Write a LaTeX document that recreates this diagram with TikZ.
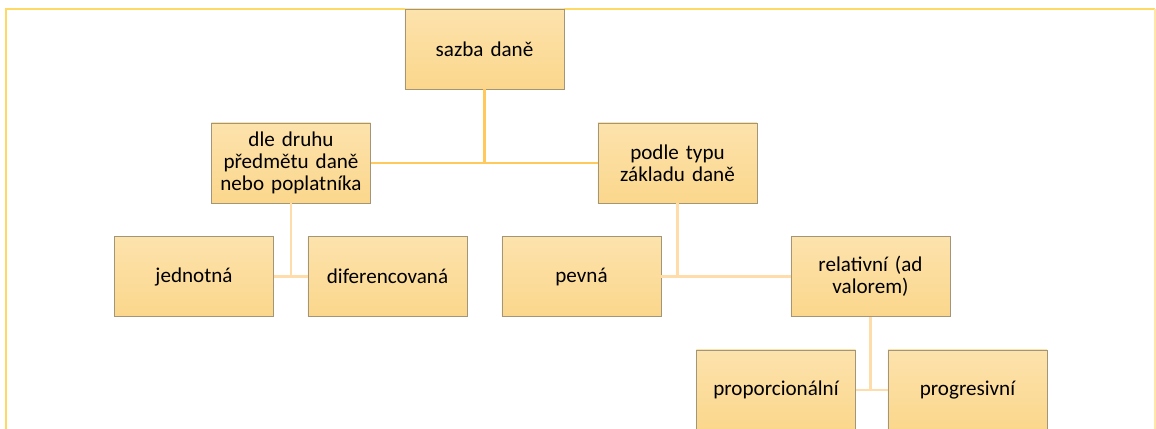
\documentclass[tikz,border=0pt]{standalone}
\usepackage{fontspec}
\setmainfont{Carlito}
\usepackage{tikz}
\usepackage{xcolor}

\definecolor{rimyellow}{HTML}{FFD966}
\definecolor{rimpale}{HTML}{FFE6A8}
\definecolor{boxtop}{HTML}{FCE2AC}
\definecolor{boxbottom}{HTML}{FBD78C}
\definecolor{boxedge}{HTML}{A39678}
\definecolor{linkmain}{HTML}{FFC95C}
\definecolor{linksub}{HTML}{FFDDAA}

\tikzset{
  box/.style={draw=boxedge, line width=0.6pt, top color=boxtop, bottom color=boxbottom,
    minimum width=3.975cm, minimum height=2cm, text width=3.9cm, align=center,
    font=\fontsize{15}{15.6}\selectfont, inner sep=0pt},
  linkA/.style={draw=linkmain, line width=1.8pt},
  linkB/.style={draw=linksub, line width=1.8pt}
}

\begin{document}
\begin{tikzpicture}[x=0.025cm,y=-0.025cm]
 \useasboundingbox (0,0) rectangle (1156,428);
 \clip (0,0) rectangle (1156,428);
 \draw[rimyellow, line width=1.5pt] (6,430) -- (6,9) -- (1155,9);
 \draw[rimpale, line width=1pt] (1155,9) -- (1155,430);
 \node[box] (sazba) at (484.5,49) {sazba daně};
 \node[box] (dle) at (291,163) {dle druhu\\ předmětu daně\\ nebo poplatníka};
 \node[box] (podle) at (677.5,163) {podle typu\\ základu daně};
 \node[box] (jedn) at (194,276.5) {jednotná};
 \node[box] (dif) at (387.5,276.5) {diferencovaná};
 \node[box] (pevna) at (581.5,276.5) {pevná};
 \node[box] (rel) at (870.5,276.5) {relativní (ad\\ valorem)};
 \node[box] (prop) at (776,390) {proporcionální};
 \node[box] (prog) at (967.5,390) {progresivní};
 \draw[linkA] (sazba.south) -- (sazba.south |- dle.east);
 \draw[linkA] (dle.east) -- (podle.west);
 \draw[linkB] (dle.south) -- (dle.south |- jedn.east);
 \draw[linkB] (jedn.east) -- (dif.west);
 \draw[linkB] (podle.south) -- (podle.south |- pevna.east);
 \draw[linkB] (pevna.east) -- (rel.west);
 \draw[linkB] (rel.south) -- (rel.south |- prop.east);
 \draw[linkB] (prop.east) -- (prog.west);
\end{tikzpicture}
\end{document}
